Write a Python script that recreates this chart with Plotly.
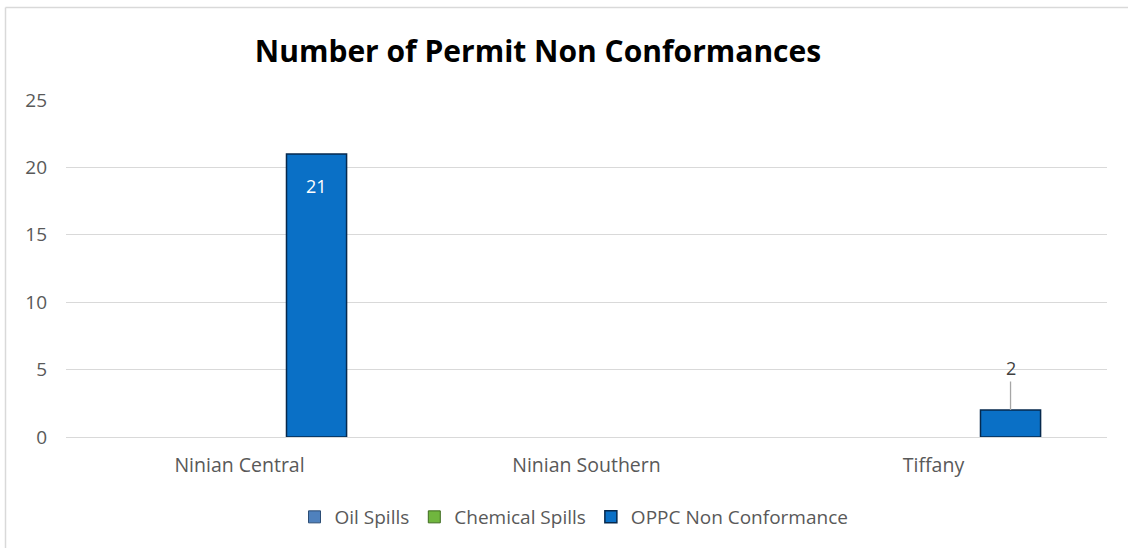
import plotly.graph_objects as go

# Site categories and incident counts per series
sites = ["Ninian Central", "Ninian Southern", "Tiffany"]
oil_spills = [None, None, None]
chemical_spills = [None, None, None]
oppc_nonconformance = [21, None, 2]

series_names = ["Oil Spills", "Chemical Spills", "OPPC Non Conformance"]
y_ticks = [0, 5, 10, 15, 20, 25]

W, H = 1128, 548
ML, MR, MT, MB = 66, 21, 100, 111
PW, PH = W - ML - MR, H - MT - MB

FONT = "Open Sans"
GREY = "#595959"


def px_to_paper_x(px):
    return (px - ML) / PW


def px_to_paper_y(py):
    return (H - MB - py) / PH


fig = go.Figure()
fig.add_trace(go.Bar(x=sites, y=oil_spills, name=series_names[0],
                     marker=dict(color="#4F81BD", line=dict(color="#2C4D75", width=1))))
fig.add_trace(go.Bar(x=sites, y=chemical_spills, name=series_names[1],
                     marker=dict(color="#70B63E", line=dict(color="#3E6B1F", width=1))))
fig.add_trace(go.Bar(x=sites, y=oppc_nonconformance, name=series_names[2],
                     marker=dict(color="#0A70C6", line=dict(color="#06294D", width=1.5))))

# Data labels for the OPPC series: inside the tall bar, above the short one with a leader
slot_shift = PW / 3 * (1 - 0.334) / 3
for site, v in zip(sites, oppc_nonconformance):
    if v is None:
        continue
    if v >= 10:
        fig.add_annotation(x=site, y=v, xshift=slot_shift, yshift=-32, text=str(v),
                           showarrow=False, font=dict(family=FONT, size=18, color="white"))
    else:
        fig.add_annotation(x=site, y=v, xshift=slot_shift, text=str(v),
                           showarrow=True, arrowhead=0, arrowwidth=1.3, arrowcolor="#A6A6A6",
                           ax=0, ay=-42, standoff=0,
                           font=dict(family=FONT, size=18, color="#404040"))

# Outer chart border (top and left edges)
fig.add_shape(type="line", xref="paper", yref="paper",
              x0=px_to_paper_x(5.5), y0=px_to_paper_y(H), x1=px_to_paper_x(5.5), y1=px_to_paper_y(7.5),
              line=dict(color="#D9D9D9", width=1.5))
fig.add_shape(type="line", xref="paper", yref="paper",
              x0=px_to_paper_x(5.5), y0=px_to_paper_y(7.5), x1=px_to_paper_x(W), y1=px_to_paper_y(7.5),
              line=dict(color="#D9D9D9", width=1.5))

fig.update_layout(
    width=W, height=H,
    margin=dict(l=ML, r=MR, t=MT, b=MB),
    paper_bgcolor="white", plot_bgcolor="white",
    barmode="group", bargap=0.334, bargroupgap=0.22,
    title=dict(text="<b>Number of Permit Non Conformances</b>",
               x=px_to_paper_x(538), xref="paper", xanchor="center",
               y=1 - 51 / H, yanchor="middle",
               font=dict(family=FONT, size=30, color="black")),
    font=dict(family=FONT, size=19, color=GREY),
    legend=dict(orientation="h", x=px_to_paper_x(574), xanchor="center",
                y=px_to_paper_y(517), yanchor="middle",
                font=dict(family=FONT, size=19, color=GREY),
                itemwidth=30, tracegroupgap=0),
    showlegend=True,
)
fig.update_xaxes(showgrid=False, showline=True, linecolor="#D9D9D9", linewidth=1,
                 ticks="", ticklabelstandoff=11,
                 tickfont=dict(family=FONT, size=19.5, color=GREY))
fig.update_yaxes(range=[0, 25], tickvals=y_ticks, showgrid=True, gridcolor="#D9D9D9",
                 gridwidth=1, zeroline=False, showline=False, ticks="",
                 ticklabelstandoff=18,
                 tickfont=dict(family=FONT, size=19, color=GREY))

fig.write_html("out.html")
